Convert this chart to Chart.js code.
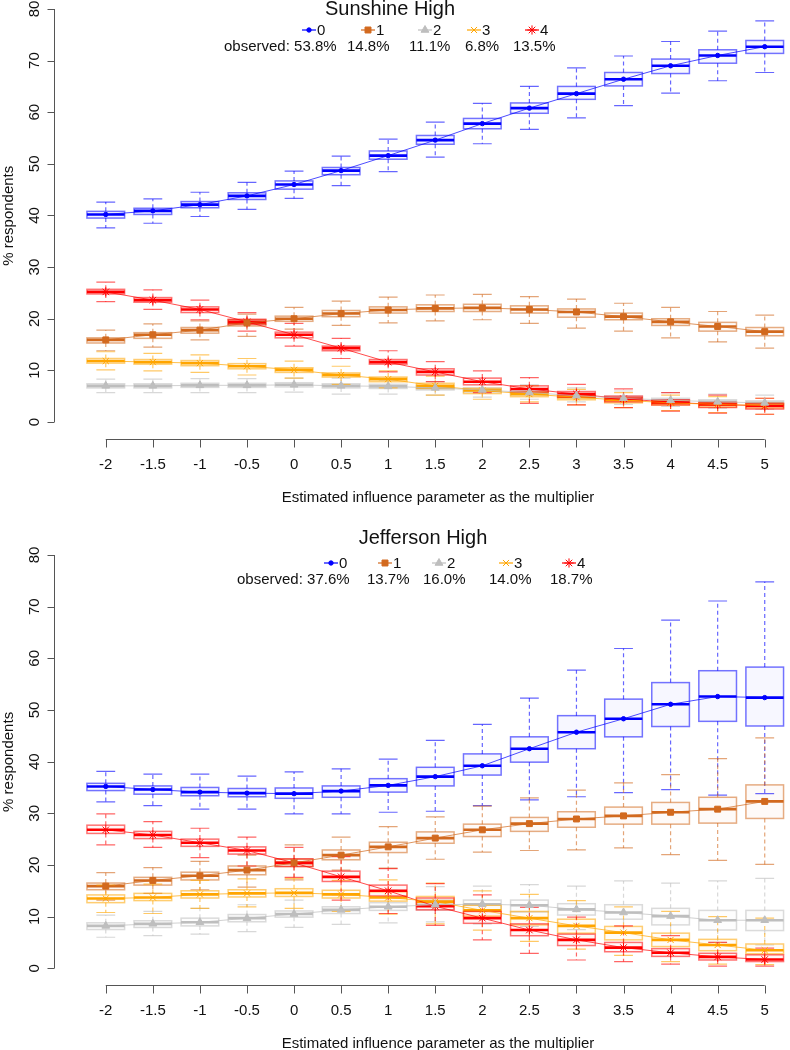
<!DOCTYPE html>
<html>
<head>
<meta charset="utf-8">
<script src="https://cdn.jsdelivr.net/npm/chart.js@4.4.1/dist/chart.umd.min.js"></script>
<style>
body { margin:0; background:#fff; width:790px; height:1050px; overflow:hidden; position:relative; }
.panel { position:absolute; left:0; width:790px; height:525px; }
canvas { display:block; }
</style>
</head>
<body>
<div class="panel" style="top:0"><canvas id="sunChart" width="790" height="525"></canvas></div>
<div class="panel" style="top:525px"><canvas id="jeffChart" width="790" height="525"></canvas></div>
<script>
// x categories: estimated influence parameter used as multiplier
var multipliers = [-2, -1.5, -1, -0.5, 0, 0.5, 1, 1.5, 2, 2.5, 3, 3.5, 4, 4.5, 5];
var yTicks = [0, 10, 20, 30, 40, 50, 60, 70, 80];
var categoryNames = ['0', '1', '2', '3', '4'];
var seriesColors = ['#0000FF', '#D2691E', '#BEBEBE', '#FFA500', '#FF0000'];
var pointStyles = ['circle', 'rect', 'triangle', 'crossRot', 'star'];
var pointSizes = [2.2, 4.2, 4.5, 4.3, 4.6];

var sunshineObserved = ['53.8%', '14.8%', '11.1%', '6.8%', '13.5%'];
var jeffersonObserved = ['37.6%', '13.7%', '16.0%', '14.0%', '18.7%'];

// each row: [lower whisker, Q1, median, Q3, upper whisker]
var sunshine0 = [[37.6,39.5,40.2,40.8,42.6],[38.5,40.2,40.9,41.4,43.2],[39.8,41.5,42.1,42.7,44.5],[41.2,43.1,43.8,44.4,46.4],[43.3,45.1,46.0,46.7,48.6],[45.8,47.9,48.7,49.3,51.5],[48.5,50.9,51.6,52.5,54.8],[51.3,53.8,54.6,55.5,58.1],[53.9,56.8,57.8,58.8,61.7],[56.7,59.8,60.8,61.8,65.0],[58.9,62.5,63.6,65.0,68.6],[61.3,65.1,66.4,67.7,70.9],[63.7,67.5,69.0,70.3,73.7],[66.1,69.5,71.0,72.1,75.7],[67.7,71.4,72.7,73.9,77.7]];
var sunshine1 = [[13.8,15.3,15.9,16.3,17.8],[14.5,16.2,16.9,17.3,19.0],[15.9,17.2,17.8,18.3,19.6],[16.6,18.6,19.2,19.8,20.9],[18.0,19.5,20.0,20.5,22.2],[18.7,20.4,21.0,21.6,23.4],[19.2,21.1,21.7,22.3,24.2],[19.6,21.4,22.0,22.7,24.6],[19.8,21.4,22.1,22.8,24.7],[19.1,21.1,21.8,22.5,24.3],[18.2,20.3,21.3,21.9,23.8],[17.6,19.8,20.4,21.1,23.0],[16.3,18.7,19.4,20.0,22.2],[15.5,17.6,18.5,19.3,21.4],[14.3,16.7,17.5,18.3,20.7]];
var sunshine2 = [[5.7,6.6,7.0,7.4,8.3],[5.7,6.6,7.0,7.4,8.3],[5.7,6.7,7.1,7.5,8.4],[5.7,6.7,7.1,7.5,8.4],[5.8,6.8,7.2,7.6,8.5],[5.4,6.6,7.0,7.4,8.5],[5.4,6.5,6.9,7.3,8.1],[5.2,6.2,6.6,7.0,7.8],[4.8,5.8,6.2,6.6,7.6],[4.4,5.3,5.7,6.1,7.2],[3.9,4.7,5.1,5.5,6.6],[3.4,4.2,4.6,5.0,6.0],[3.0,3.8,4.2,4.6,5.7],[2.7,3.5,3.9,4.3,5.4],[2.5,3.3,3.7,4.1,5.2]];
var sunshine3 = [[10.1,11.4,11.8,12.3,13.6],[9.9,11.2,11.6,12.1,13.3],[9.6,10.9,11.4,11.9,13.0],[9.1,10.3,10.8,11.3,12.3],[8.5,9.6,10.1,10.5,11.8],[7.3,8.7,9.1,9.5,10.8],[6.6,7.8,8.3,8.7,9.9],[5.2,6.5,7.0,7.5,8.9],[4.4,5.5,6.1,6.5,7.8],[3.9,4.9,5.4,5.8,7.0],[3.3,4.3,4.8,5.2,6.3],[2.8,3.7,4.2,4.6,5.7],[2.2,3.3,3.7,4.1,5.2],[1.8,2.9,3.4,3.7,4.9],[1.5,2.7,3.2,3.6,4.6]];
var sunshine4 = [[23.3,24.8,25.2,25.7,27.1],[21.8,23.2,23.6,24.1,25.6],[19.8,21.2,21.8,22.3,23.6],[17.6,18.9,19.4,19.9,21.2],[14.7,16.3,16.9,17.4,19.1],[12.3,13.8,14.3,14.7,16.2],[9.7,11.2,11.6,12.1,13.8],[7.8,9.1,9.7,10.3,11.7],[5.7,7.2,7.8,8.5,9.9],[3.6,5.8,6.4,7.0,8.6],[3.3,4.8,5.4,5.9,7.3],[2.8,3.9,4.5,5.0,6.4],[2.1,3.3,3.8,4.3,5.7],[1.7,2.8,3.4,3.8,5.2],[1.5,2.5,3.1,3.6,4.6]];

var jefferson0 = [[32.2,34.4,35.2,35.8,38.1],[31.5,33.7,34.6,35.3,37.6],[30.8,33.4,34.1,35.0,37.6],[30.8,33.2,33.9,34.8,37.2],[29.9,32.9,33.8,34.9,38.0],[29.9,33.1,34.3,35.3,38.6],[30.2,34.1,35.4,36.7,40.5],[30.4,35.3,37.1,38.9,44.1],[31.5,37.4,39.2,41.5,47.2],[32.6,39.9,42.5,44.8,52.3],[33.2,42.5,45.7,48.9,57.7],[34.0,44.8,48.3,52.1,61.9],[34.6,46.8,51.1,55.3,67.4],[33.5,47.8,52.6,57.6,71.1],[33.8,46.9,52.4,58.3,74.8]];
var jefferson1 = [[13.2,15.2,15.9,16.5,18.5],[14.5,16.1,17.0,17.6,19.5],[15.2,17.1,17.9,18.6,20.7],[15.7,18.1,19.0,19.8,21.9],[17.1,19.7,20.4,21.1,23.9],[19.0,21.0,21.9,22.9,25.4],[19.4,22.4,23.5,24.4,27.4],[21.1,24.2,25.2,26.4,29.3],[22.5,25.5,26.8,27.9,31.4],[22.8,26.5,28.0,29.2,33.0],[22.9,27.3,28.9,30.3,34.5],[23.3,27.9,29.5,31.2,35.9],[22.0,27.9,30.2,32.1,37.5],[20.9,28.1,30.8,33.1,40.6],[20.1,29.0,32.3,35.5,44.6]];
var jefferson2 = [[6.0,7.5,8.2,8.8,10.3],[6.3,7.9,8.6,9.2,11.0],[6.6,8.2,8.9,9.7,11.6],[7.1,9.0,9.7,10.4,12.3],[7.9,9.9,10.5,11.1,13.2],[8.5,10.6,11.3,11.9,14.2],[8.8,11.2,11.9,12.7,15.1],[9.0,11.3,12.3,13.2,15.8],[8.6,11.3,12.4,13.2,15.9],[8.1,10.9,12.2,13.2,16.2],[7.5,10.3,11.4,12.5,15.9],[6.9,9.5,10.8,12.3,16.9],[5.5,8.4,10.1,11.6,16.5],[5.0,7.4,9.3,11.2,16.9],[4.5,7.3,9.3,11.2,17.4]];
var jefferson3 = [[10.8,12.7,13.5,14.2,16.1],[10.6,13.1,13.7,14.5,16.3],[11.6,13.6,14.3,15.0,17.0],[11.9,13.8,14.5,15.2,17.3],[11.6,13.9,14.6,15.4,17.4],[11.0,13.6,14.3,15.1,17.0],[10.5,13.0,13.7,14.8,17.1],[8.6,12.0,12.9,13.9,16.5],[7.4,10.1,11.2,12.2,15.0],[5.2,8.4,9.7,11.0,14.3],[3.7,6.8,8.2,9.5,13.1],[2.5,5.5,6.9,8.1,11.9],[1.3,4.2,5.5,6.8,11.0],[0.8,3.4,4.5,5.6,10.0],[0.7,2.8,3.5,4.7,9.7]];
var jefferson4 = [[23.9,26.1,26.8,27.7,29.9],[23.4,25.1,25.8,26.5,28.4],[21.4,23.6,24.3,25.0,27.1],[19.8,22.1,22.8,23.5,25.4],[17.6,19.7,20.4,21.2,23.4],[13.2,16.8,17.7,18.8,21.6],[10.6,14.0,15.0,16.1,19.3],[8.3,11.3,12.0,13.6,16.4],[5.5,8.7,9.7,11.0,14.2],[2.9,6.3,7.4,8.6,11.8],[1.6,4.4,5.5,6.6,9.9],[1.3,3.2,4.0,5.0,8.2],[0.8,2.3,3.0,3.8,6.3],[0.4,1.6,2.2,2.9,5.0],[0.4,1.3,1.7,2.6,3.9]];

var FONT = '"Liberation Sans", Arial, Helvetica, sans-serif';

function rgba(hex, a) {
    var n = parseInt(hex.slice(1), 16);
    return 'rgba(' + ((n >> 16) & 255) + ',' + ((n >> 8) & 255) + ',' + (n & 255) + ',' + a + ')';
}

function drawMarker(ctx, s, x, y) {
    ctx.save();
    ctx.fillStyle = seriesColors[s];
    ctx.strokeStyle = seriesColors[s];
    ctx.lineWidth = 1;
    if (Chart.helpers && Chart.helpers.drawPoint) {
        Chart.helpers.drawPoint(ctx, {pointStyle: pointStyles[s], radius: pointSizes[s], rotation: 0, borderWidth: 1}, x, y);
    } else {
        ctx.beginPath(); ctx.arc(x, y, 3, 0, Math.PI * 2); ctx.fill();
    }
    ctx.restore();
}

// boxes, whiskers and medians, drawn through the chart scales
function drawBoxes(chart, boxes) {
    var ctx = chart.ctx, xs = chart.scales.x, ys = chart.scales.y;
    var step = xs.getPixelForValue(0.5) - xs.getPixelForValue(0);
    var half = step * 0.4, cap = step * 0.2;
    ctx.save();
    for (var s = 0; s < boxes.length; s++) {
        var col = seriesColors[s];
        for (var i = 0; i < multipliers.length; i++) {
            var b = boxes[s][i];
            var x = xs.getPixelForValue(multipliers[i]);
            var yLo = ys.getPixelForValue(b[0]), yQ1 = ys.getPixelForValue(b[1]);
            var yMed = ys.getPixelForValue(b[2]), yQ3 = ys.getPixelForValue(b[3]);
            var yHi = ys.getPixelForValue(b[4]);
            ctx.strokeStyle = rgba(col, 0.6);
            ctx.lineWidth = 1.2;
            ctx.setLineDash([4, 3]);
            ctx.beginPath();
            ctx.moveTo(x, yQ3); ctx.lineTo(x, yHi);
            ctx.moveTo(x, yQ1); ctx.lineTo(x, yLo);
            ctx.stroke();
            ctx.setLineDash([]);
            ctx.beginPath();
            ctx.moveTo(x - cap, yHi); ctx.lineTo(x + cap, yHi);
            ctx.moveTo(x - cap, yLo); ctx.lineTo(x + cap, yLo);
            ctx.stroke();
            ctx.fillStyle = rgba(col, 0.03);
            ctx.fillRect(x - half, yQ3, 2 * half, yQ1 - yQ3);
            ctx.strokeStyle = rgba(col, 0.55);
            ctx.lineWidth = 1.5;
            ctx.strokeRect(x - half, yQ3, 2 * half, yQ1 - yQ3);
            ctx.strokeStyle = col;
            ctx.lineWidth = 2.6;
            ctx.beginPath();
            ctx.moveTo(x - half, yMed); ctx.lineTo(x + half, yMed);
            ctx.stroke();
        }
    }
    ctx.restore();
}

function drawFrame(chart, cfg) {
    var ctx = chart.ctx, xs = chart.scales.x, ys = chart.scales.y, area = chart.chartArea;
    ctx.save();
    ctx.strokeStyle = '#555';
    ctx.lineWidth = 1;
    ctx.fillStyle = '#111';
    ctx.font = '15px ' + FONT;

    // y axis (R style: line between first and last tick)
    var ax = Math.round(area.left) + 0.5;
    ctx.beginPath();
    ctx.moveTo(ax, ys.getPixelForValue(yTicks[0]));
    ctx.lineTo(ax, ys.getPixelForValue(yTicks[yTicks.length - 1]));
    yTicks.forEach(function(t) {
        var y = Math.round(ys.getPixelForValue(t)) + 0.5;
        ctx.moveTo(ax, y); ctx.lineTo(ax - 7, y);
    });
    ctx.stroke();
    ctx.textAlign = 'center';
    ctx.textBaseline = 'middle';
    yTicks.forEach(function(t) {
        ctx.save();
        ctx.translate(35, ys.getPixelForValue(t));
        ctx.rotate(-Math.PI / 2);
        ctx.fillText(String(t), 0, 0);
        ctx.restore();
    });
    ctx.save();
    ctx.translate(9, (area.top + area.bottom) / 2 - 8);
    ctx.rotate(-Math.PI / 2);
    ctx.fillText('% respondents', 0, 0);
    ctx.restore();

    // x axis
    var ay = Math.round(area.bottom) + 0.5;
    ctx.beginPath();
    ctx.moveTo(xs.getPixelForValue(multipliers[0]), ay);
    ctx.lineTo(xs.getPixelForValue(multipliers[multipliers.length - 1]), ay);
    multipliers.forEach(function(m) {
        var x = Math.round(xs.getPixelForValue(m)) + 0.5;
        ctx.moveTo(x, ay); ctx.lineTo(x, ay + 8);
    });
    ctx.stroke();
    multipliers.forEach(function(m) {
        ctx.fillText(String(m), xs.getPixelForValue(m), ay + 25);
    });
    ctx.fillText('Estimated influence parameter as the multiplier', 438, ay + 58);

    // title and legend
    ctx.font = '20px ' + FONT;
    ctx.fillText(cfg.title, cfg.titleX, cfg.titleY);
    ctx.font = '15px ' + FONT;
    ctx.textAlign = 'left';
    for (var s = 0; s < categoryNames.length; s++) {
        var mx = cfg.markerX[s], my = cfg.rowY;
        ctx.strokeStyle = seriesColors[s];
        ctx.lineWidth = 1.2;
        ctx.beginPath(); ctx.moveTo(mx - 7, my); ctx.lineTo(mx + 7, my); ctx.stroke();
        drawMarker(ctx, s, mx, my);
        ctx.fillStyle = '#111';
        ctx.fillText(categoryNames[s], mx + 8, my + 1);
        var txt = (s === 0 ? 'observed: ' : '') + cfg.observed[s];
        ctx.fillText(txt, cfg.obsX[s], cfg.rowY + 17);
    }
    ctx.restore();
}

function makePanel(canvasId, boxes, cfg) {
    var datasets = boxes.map(function(rows, s) {
        return {
            label: categoryNames[s],
            data: rows.map(function(r, i) { return {x: multipliers[i], y: r[2]}; }),
            borderColor: rgba(seriesColors[s], 0.7),
            borderWidth: 1,
            backgroundColor: seriesColors[s],
            pointStyle: pointStyles[s],
            pointRadius: pointSizes[s],
            pointBorderWidth: 1,
            pointBackgroundColor: seriesColors[s],
            pointBorderColor: seriesColors[s],
            tension: 0,
            fill: false,
            clip: false
        };
    });
    return new Chart(document.getElementById(canvasId), {
        type: 'line',
        data: {datasets: datasets},
        options: {
            responsive: false,
            animation: false,
            events: [],
            layout: {padding: {left: 54, right: 0, top: cfg.padTop, bottom: cfg.padBottom}},
            scales: {
                x: {type: 'linear', min: -2.55, max: 5.209, display: false},
                y: {type: 'linear', min: -3.2, max: 80, display: false}
            },
            plugins: {legend: {display: false}, tooltip: {enabled: false}}
        },
        plugins: [{
            id: 'boxplots',
            beforeDatasetsDraw: function(chart) { drawBoxes(chart, boxes); },
            afterDraw: function(chart) { drawFrame(chart, cfg); }
        }]
    });
}

makePanel('sunChart', [sunshine0, sunshine1, sunshine2, sunshine3, sunshine4], {
    padTop: 9, padBottom: 86.5,
    title: 'Sunshine High', titleX: 390, titleY: 9,
    rowY: 30, markerX: [309, 368, 425, 474, 532],
    observed: sunshineObserved, obsX: [224, 347, 409, 465, 513]
});
makePanel('jeffChart', [jefferson0, jefferson1, jefferson2, jefferson3, jefferson4], {
    padTop: 30, padBottom: 65.2,
    title: 'Jefferson High', titleX: 423, titleY: 13,
    rowY: 38, markerX: [331, 385, 439, 506, 569],
    observed: jeffersonObserved, obsX: [237, 367, 423, 489, 550]
});
</script>
</body>
</html>
